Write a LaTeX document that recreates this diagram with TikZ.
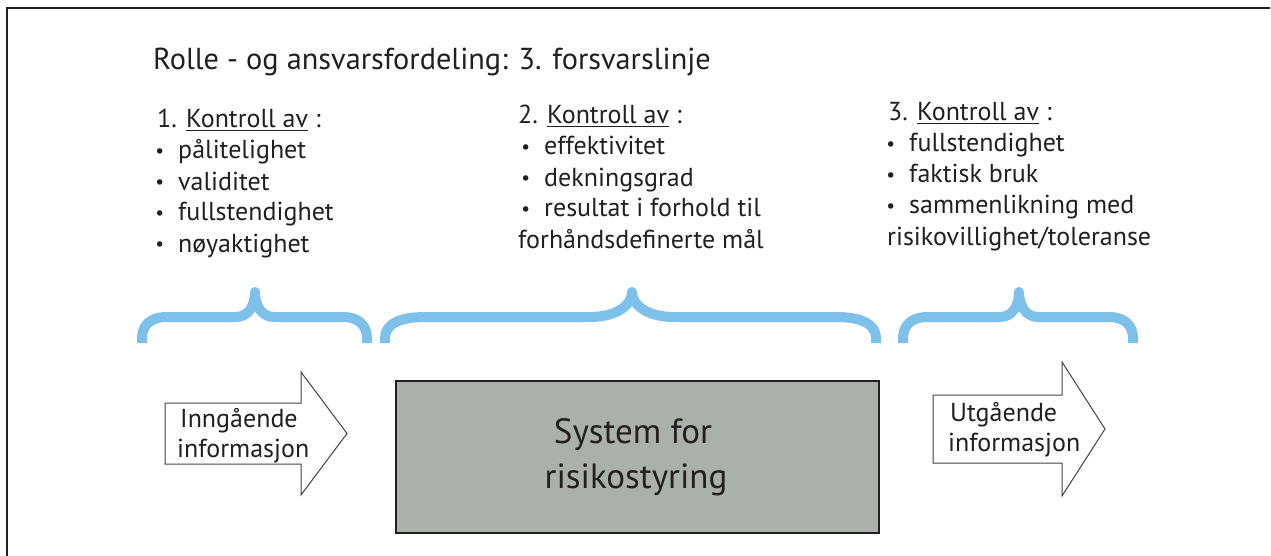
\documentclass[tikz,border=0pt]{standalone}
\usepackage{fontspec}
\usepackage{graphicx}
\setmainfont{PT Sans}
\definecolor{ink}{HTML}{231F20}
\definecolor{braceblue}{HTML}{7DC0EA}
\definecolor{boxgray}{HTML}{ABB0AD}
\newcommand\bulletitem{\llap{\raisebox{1.5pt}{\scalebox{0.75}{\textbullet}}\hspace{14pt}}}
\begin{document}
\begin{tikzpicture}[x=1pt,y=-1pt,
  line/.style={inner sep=0pt, anchor=base west, text=ink, font=\fontsize{26}{31}\selectfont},
  title/.style={inner sep=0pt, anchor=base west, text=ink, font=\fontsize{30.3}{36}\selectfont},
  boxtext/.style={inner sep=0pt, anchor=base, text=ink, font=\fontsize{35}{45}\selectfont},
  bracket/.style={draw=braceblue, line width=10pt, line join=round, line cap=butt},
  flow/.style={draw=ink!85, line width=1pt, fill=white, line join=miter},
]
\useasboundingbox (0,0) rectangle (1271,556);

% outer frame (top and left edges)
\draw[ink, line width=2.5pt] (7,556) -- (7,8) -- (1270,8);

% heading
\node[title] (head) at (153,70) {Rolle - og ansvarsfordeling: 3. forsvarslinje};

% first line of defence
\node[line] (c1h) at (157,128) {1. \underline{Kontroll av} :};
\node[line] (c1a) at (178,159) {\bulletitem pålitelighet};
\node[line] (c1b) at (178,190) {\bulletitem validitet};
\node[line] (c1c) at (178,221) {\bulletitem fullstendighet};
\node[line] (c1d) at (178,252) {\bulletitem nøyaktighet};

% second line of defence
\node[line] (c2h) at (518,124) {2. \underline{Kontroll av} :};
\node[line] (c2a) at (544,155) {\bulletitem effektivitet};
\node[line] (c2b) at (544,186) {\bulletitem dekningsgrad};
\node[line] (c2c) at (544,217) {\bulletitem resultat i forhold til};
\node[line] (c2d) at (518,248) {forhåndsdefinerte mål};

% third line of defence
\node[line] (c3h) at (888,121) {3. \underline{Kontroll av} :};
\node[line] (c3a) at (909,152) {\bulletitem fullstendighet};
\node[line] (c3b) at (909,183) {\bulletitem faktisk bruk};
\node[line] (c3c) at (909,214) {\bulletitem sammenlikning med};
\node[line] (c3d) at (887,245) {risikovillighet/toleranse};

% curly brackets
\draw[bracket] (142,343) -- (142,338) .. controls (142,326) and (150,317) .. (166,317)
  -- (236,317) .. controls (248,317) and (255,306) .. (255,292)
  .. controls (255,306) and (262,317) .. (274,317)
  -- (343,317) .. controls (359,317) and (367,326) .. (367,338) -- (367,343);
\draw[bracket] (385,343) -- (385,338) .. controls (385,324) and (400,317) .. (425,317)
  -- (590,317) .. controls (615,317) and (632,306) .. (632,292)
  .. controls (632,306) and (649,317) .. (674,317)
  -- (836,317) .. controls (861,317) and (876,324) .. (876,338) -- (876,343);
\draw[bracket] (903,343) -- (903,338) .. controls (903,326) and (911,317) .. (927,317)
  -- (1000,317) .. controls (1012,317) and (1019,306) .. (1019,292)
  .. controls (1019,306) and (1026,317) .. (1038,317)
  -- (1109,317) .. controls (1125,317) and (1133,326) .. (1133,338) -- (1133,343);

% central system box
\node[draw=ink, line width=2pt, fill=boxgray, minimum width=483pt, minimum height=152pt,
      inner sep=0pt] (sys) at (637.5,457) {};
\node[boxtext] (sys1) at (633,443) {System for};
\node[boxtext] (sys2) at (636,488) {risikostyring};

% incoming information arrow
\draw[flow] (165,403) -- (301,403) -- (301,372) -- (347,433.5) -- (301,495)
  -- (301,464) -- (165,464) -- cycle;
\node[line] (in1) at (180,427) {Inngående};
\node[line] (in2) at (177,457) {informasjon};

% outgoing information arrow
\draw[flow] (933,395) -- (1062,395) -- (1062,362) -- (1105,429) -- (1062,496)
  -- (1062,463) -- (933,463) -- cycle;
\node[line] (out1) at (950,421) {Utgående};
\node[line] (out2) at (948,451) {informasjon};
\end{tikzpicture}
\end{document}
